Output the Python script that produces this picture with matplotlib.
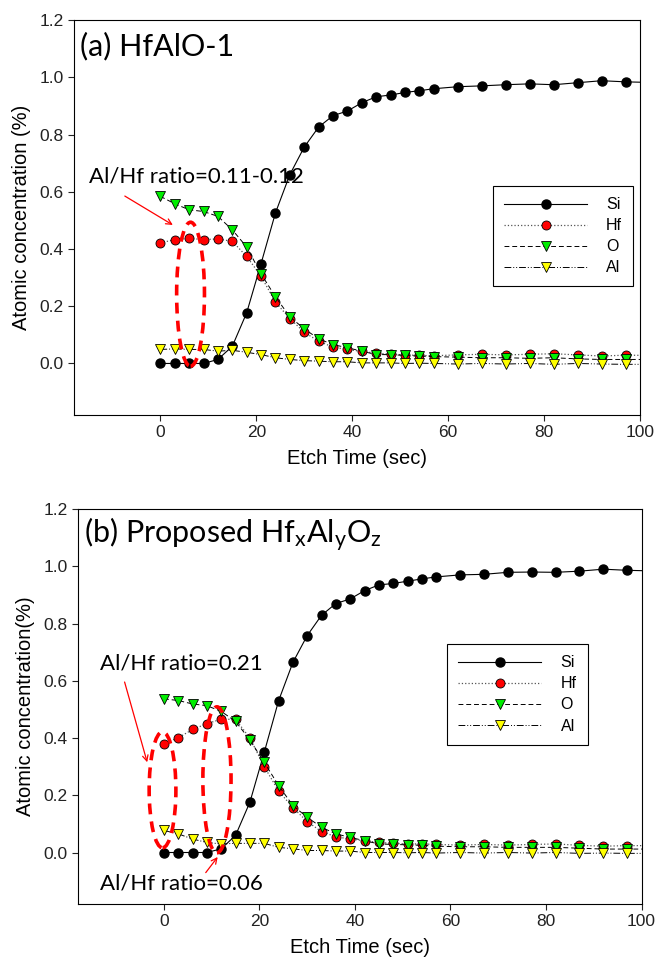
import numpy as np
import matplotlib as mpl
mpl.use('Agg')
import matplotlib.pyplot as plt
from matplotlib.patches import Ellipse

plt.rcParams['font.family'] = ['Liberation Sans', 'DejaVu Sans']
plt.rcParams['mathtext.default'] = 'regular'

# etch time (sec), last point sits just past the axis edge
etch_time = [0, 3, 6, 9, 12, 15, 18, 21, 24, 27, 30, 33, 36, 39, 42, 45, 48,
             51, 54, 57, 62, 67, 72, 77, 82, 87, 92, 97, 102]

# (a) HfAlO-1
si_a = [0.0, 0.0, 0.0, 0.0, 0.014, 0.06, 0.177, 0.349, 0.526, 0.66, 0.756, 0.826,
        0.866, 0.882, 0.911, 0.932, 0.938, 0.947, 0.953, 0.96, 0.967, 0.97, 0.974,
        0.977, 0.974, 0.981, 0.988, 0.984, 0.982]
hf_a = [0.421, 0.433, 0.437, 0.433, 0.435, 0.427, 0.374, 0.305, 0.214, 0.157, 0.109,
        0.078, 0.057, 0.049, 0.042, 0.036, 0.032, 0.030, 0.028, 0.027, 0.030, 0.032,
        0.030, 0.032, 0.034, 0.030, 0.026, 0.029, 0.028]
o_a = [0.584, 0.558, 0.537, 0.531, 0.514, 0.467, 0.407, 0.313, 0.233, 0.163, 0.121,
       0.086, 0.066, 0.055, 0.043, 0.031, 0.031, 0.028, 0.026, 0.024, 0.022, 0.020,
       0.020, 0.018, 0.020, 0.016, 0.014, 0.014, 0.014]
al_a = [0.049, 0.051, 0.049, 0.049, 0.043, 0.046, 0.039, 0.031, 0.020, 0.014, 0.010,
        0.008, 0.006, 0.006, 0.002, 0.002, 0.002, 0.0, 0.001, 0.0, -0.002, 0.0,
        -0.002, 0.0, -0.003, 0.0, -0.002, -0.003, -0.003]

# (b) Proposed HfxAlyOz
si_b = [0.0, 0.0, 0.0, 0.0, 0.013, 0.06, 0.176, 0.35, 0.53, 0.664, 0.758, 0.829,
        0.87, 0.886, 0.915, 0.935, 0.94, 0.948, 0.956, 0.963, 0.97, 0.972, 0.979,
        0.98, 0.979, 0.983, 0.99, 0.986, 0.984]
hf_b = [0.38, 0.401, 0.43, 0.45, 0.466, 0.465, 0.40, 0.30, 0.215, 0.157, 0.108,
        0.073, 0.055, 0.047, 0.041, 0.035, 0.032, 0.030, 0.030, 0.028, 0.026, 0.028,
        0.026, 0.028, 0.030, 0.025, 0.022, 0.024, 0.024]
o_b = [0.537, 0.531, 0.519, 0.513, 0.493, 0.458, 0.393, 0.315, 0.234, 0.164, 0.123,
       0.088, 0.065, 0.053, 0.041, 0.030, 0.028, 0.027, 0.025, 0.022, 0.020, 0.020,
       0.018, 0.018, 0.018, 0.015, 0.012, 0.012, 0.012]
al_b = [0.077, 0.065, 0.047, 0.035, 0.030, 0.032, 0.032, 0.032, 0.018, 0.013, 0.007,
        0.007, 0.005, 0.005, 0.0, 0.0, 0.0, -0.001, 0.0, -0.002, 0.0, -0.002, 0.0,
        -0.002, 0.0, -0.003, -0.002, -0.003, -0.003]

yticks = [0.0, 0.2, 0.4, 0.6, 0.8, 1.0, 1.2]
xticks = [0, 20, 40, 60, 80, 100]

fig = plt.figure(figsize=(6.56, 9.68), dpi=100)
ax1 = fig.add_axes([0.1128, 0.5713, 0.8628, 0.408])
ax2 = fig.add_axes([0.1189, 0.0661, 0.859, 0.408])

ann_font = ['Lato', 'DejaVu Sans']


def draw_panel(ax, si, hf, o, al, ylabel, leg_anchor):
    ax.plot(etch_time, si, '-', color='black', lw=0.8, marker='o', ms=6.5,
            mfc='black', mec='black', label='Si')
    ax.plot(etch_time, hf, ':', color='#555555', lw=0.9, marker='o', ms=6.5,
            mfc='red', mec='black', mew=0.6, label='Hf')
    ax.plot(etch_time, o, color='black', lw=0.7, ls=(0, (5, 3)), marker='v', ms=7,
            mfc='#00ee00', mec='black', mew=0.6, label='O')
    ax.plot(etch_time, al, color='black', lw=0.7, ls=(0, (7, 2, 1, 2, 1, 2)),
            marker='v', ms=7, mfc='yellow', mec='black', mew=0.6, label='Al')
    ax.set_xlim(-18, 100)
    ax.set_ylim(-0.18, 1.2)
    ax.set_xticks(xticks)
    ax.set_yticks(yticks)
    ax.set_yticklabels(['%.1f' % v for v in yticks])
    ax.tick_params(direction='out', length=4, width=0.8, labelsize=12.5,
                   top=False, right=False, colors='#222222')
    for s in ax.spines.values():
        s.set_linewidth(0.8)
    ax.set_xlabel('Etch Time (sec)', fontsize=14.5, labelpad=6)
    ax.set_ylabel(ylabel, fontsize=14.5, labelpad=6)
    leg = ax.legend(loc='upper left', bbox_to_anchor=leg_anchor, fontsize=11.5,
                    handlelength=5.2, handletextpad=1.2, labelspacing=0.38,
                    borderpad=0.7, borderaxespad=0, fancybox=False,
                    edgecolor='black', framealpha=1, markerscale=1.0)
    leg.get_frame().set_linewidth(0.8)


draw_panel(ax1, si_a, hf_a, o_a, al_a, 'Atomic concentration (%)', (0.74, 0.58))
draw_panel(ax2, si_b, hf_b, o_b, al_b, 'Atomic concentration(%)', (0.655, 0.658))

# panel titles
ax1.text(-16.7, 1.11, '(a) HfAlO-1', fontsize=22, family=ann_font, va='center')
ax2.text(-16.7, 1.11, r'(b) Proposed $\mathregular{Hf_xAl_yO_z}$', fontsize=22,
         family=ann_font, va='center')

# annotations, top panel
ax1.text(-14.8, 0.655, 'Al/Hf ratio=0.11-0.12', fontsize=16, family=ann_font,
         va='center')
ax1.annotate('', xy=(3.1, 0.479), xytext=(-7.9, 0.59),
             arrowprops=dict(arrowstyle='->', color='red', lw=0.9))
ax1.add_patch(Ellipse((6.3, 0.242), 5.8, 0.503, fill=False, ec='red', lw=2.6,
                      ls=(0, (3, 2)), zorder=5))

# annotations, bottom panel
ax2.text(-13.4, 0.66, 'Al/Hf ratio=0.21', fontsize=16, family=ann_font,
         va='center')
ax2.annotate('', xy=(-3.35, 0.306), xytext=(-8.4, 0.605),
             arrowprops=dict(arrowstyle='->', color='red', lw=0.9))
ax2.text(-13.4, -0.107, 'Al/Hf ratio=0.06', fontsize=16, family=ann_font,
         va='center')
ax2.annotate('', xy=(11.6, -0.008), xytext=(8.4, -0.078),
             arrowprops=dict(arrowstyle='->', color='red', lw=0.9))
ax2.add_patch(Ellipse((-0.3, 0.219), 5.6, 0.405, fill=False, ec='red', lw=2.6,
                      ls=(0, (3, 2)), zorder=5))
ax2.add_patch(Ellipse((11.1, 0.254), 5.9, 0.51, fill=False, ec='red', lw=2.6,
                      ls=(0, (3, 2)), zorder=5))

fig.savefig('out.png', dpi=100)
